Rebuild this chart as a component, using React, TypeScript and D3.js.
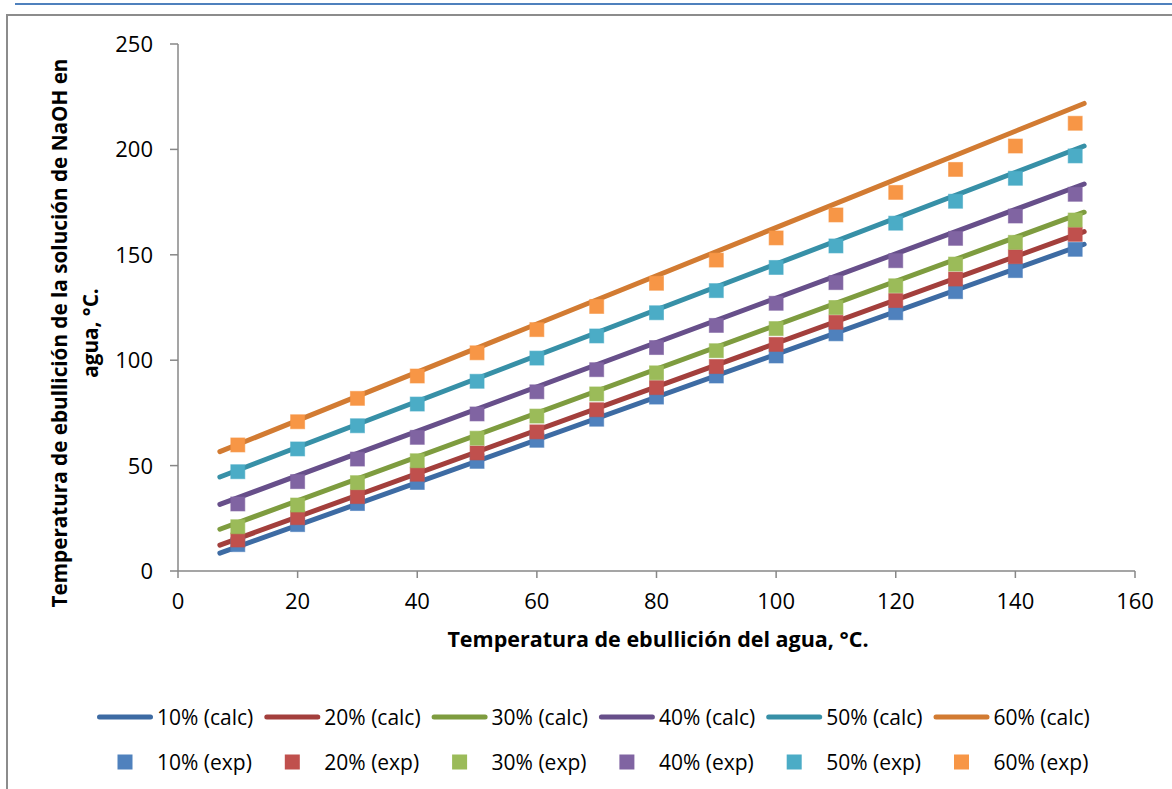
import React from "react";
import * as d3 from "d3";

const xTicks = [0, 20, 40, 60, 80, 100, 120, 140, 160];
const yTicks = [0, 50, 100, 150, 200, 250];

const seriesNames = ["10%", "20%", "30%", "40%", "50%", "60%"];
const lineColors = ["#3D6BA3", "#A33F3C", "#7E9C3F", "#674F8A", "#3790A7", "#D27B32"];
const markerColors = ["#4F81BD", "#C0504D", "#9BBB59", "#8064A2", "#4BACC6", "#F79646"];

// calculated lines: two endpoints each
const calcX = [7, 151.5];
const calc10 = [8.5, 155.0];
const calc20 = [12.3, 161.0];
const calc30 = [19.8, 170.2];
const calc40 = [31.6, 183.6];
const calc50 = [44.6, 201.6];
const calc60 = [56.6, 221.8];

// experimental points
const expX = [10, 20, 30, 40, 50, 60, 70, 80, 90, 100, 110, 120, 130, 140, 150];
const exp10 = [12.5, 22, 32, 42, 52, 62, 72, 82.5, 92.5, 102, 112.5, 122.5, 132.5, 142.5, 152.6];
const exp20 = [14.7, 25.3, 35.3, 45.9, 56, 66, 76.5, 87, 97, 107.5, 118, 128.3, 138.5, 149.1, 159.7];
const exp30 = [21, 31.3, 41.9, 52.3, 63, 73.5, 84, 94, 104.5, 115, 125, 135.3, 145.6, 155.9, 166.5];
const exp40 = [31.8, 42.4, 53.1, 63.4, 74.5, 85, 95.5, 106, 116.5, 127, 136.8, 147.2, 157.8, 168.4, 178.7];
const exp50 = [47.1, 57.9, 68.9, 79.2, 90, 101, 111.5, 122.5, 133, 144, 154.2, 165, 175.4, 186.3, 196.9];
const exp60 = [59.8, 70.8, 81.9, 92.5, 103.5, 114.5, 125.5, 136.5, 147.5, 158, 168.9, 179.6, 190.5, 201.6, 212.4];

const calcSeries = [calc10, calc20, calc30, calc40, calc50, calc60];
const expSeries = [exp10, exp20, exp30, exp40, exp50, exp60];

const FONT = "'Open Sans', 'Liberation Sans', sans-serif";

export default function App() {
  const W = 1172, H = 789;
  const x = d3.scaleLinear().domain([0, 160]).range([178, 1135]);
  const y = d3.scaleLinear().domain([0, 250]).range([571, 44]);
  const line = d3.line<[number, number]>().x(d => x(d[0])).y(d => y(d[1]));
  const axisColor = "#878787";
  const ms = 14;
  const legX0 = 97, legStep = 167.3, legLen = 56;

  return (
    <svg width={W} height={H} style={{ position: "absolute", left: 0, top: 0, background: "#fff" }} fontFamily={FONT}>
      <rect x={0} y={0} width={W} height={H} fill="#fff" />
      <line x1={15} x2={W} y1={4} y2={4} stroke="#4F81BD" strokeWidth={2} />
      <rect x={7} y={15} width={W + 20} height={H + 20} fill="none" stroke="#8C8C8C" strokeWidth={2} />

      {/* axes */}
      <line x1={x(0)} x2={x(0)} y1={y(250)} y2={y(0)} stroke={axisColor} strokeWidth={1.5} />
      <line x1={x(0)} x2={x(160)} y1={y(0)} y2={y(0)} stroke={axisColor} strokeWidth={1.5} />
      {yTicks.map(t => (
        <g key={"y" + t}>
          <line x1={x(0) - 8} x2={x(0)} y1={y(t)} y2={y(t)} stroke={axisColor} strokeWidth={1.5} />
          <text x={153} y={y(t)} dy="0.36em" textAnchor="end" fontSize={22} fill="#000">{t}</text>
        </g>
      ))}
      {xTicks.map(t => (
        <g key={"x" + t}>
          <line x1={x(t)} x2={x(t)} y1={y(0)} y2={y(0) + 7} stroke={axisColor} strokeWidth={1.5} />
          <text x={x(t)} y={601.5} dy="0.36em" textAnchor="middle" fontSize={22} fill="#000">{t}</text>
        </g>
      ))}

      {/* axis titles */}
      <text x={658} y={647} textAnchor="middle" fontSize={21.5} fontWeight="bold" fill="#000">
        Temperatura de ebullición del agua, °C.
      </text>
      <g transform="translate(60,333) rotate(-90)">
        <text x={0} y={0} dy="0.36em" textAnchor="middle" fontSize={20.7} fontWeight="bold" fill="#000">
          Temperatura de ebullición de la solución de NaOH en
        </text>
        <text x={0} y={31} dy="0.36em" textAnchor="middle" fontSize={20.7} fontWeight="bold" fill="#000">
          agua, °C.
        </text>
      </g>

      {/* calc lines */}
      {calcSeries.map((vals, i) => (
        <path key={"c" + i} d={line(calcX.map((xv, j) => [xv, vals[j]] as [number, number])) || ""}
          fill="none" stroke={lineColors[i]} strokeWidth={5} strokeLinecap="round" />
      ))}

      {/* exp markers */}
      {expSeries.map((vals, i) => (
        <g key={"e" + i}>
          {vals.map((v, j) => (
            <rect key={j} x={x(expX[j]) - ms / 2} y={y(v) - ms / 2} width={ms} height={ms}
              fill={markerColors[i]} stroke={markerColors[i]} strokeOpacity={0.6} strokeWidth={1} />
          ))}
        </g>
      ))}

      {/* legend */}
      {seriesNames.map((n, i) => {
        const lx = legX0 + i * legStep;
        return (
          <g key={"l" + i}>
            <line x1={lx + 2.5} x2={lx + legLen - 2.5} y1={717} y2={717} stroke={lineColors[i]} strokeWidth={5} strokeLinecap="round" />
            <text x={lx + 60} y={717} dy="0.36em" fontSize={21} fill="#000">{n} (calc)</text>
            <rect x={lx + legLen / 2 - 7.5} y={762 - 7.5} width={15} height={15} fill={markerColors[i]} />
            <text x={lx + 60} y={762} dy="0.36em" fontSize={21} fill="#000">{n} (exp)</text>
          </g>
        );
      })}
    </svg>
  );
}
